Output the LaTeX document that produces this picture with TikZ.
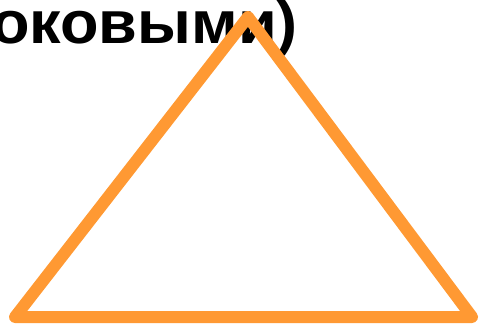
\documentclass[tikz,border=0pt]{standalone}
\usepackage{fontspec}
\setmainfont{Liberation Sans}
\definecolor{tri}{RGB}{255,153,51}
\begin{document}
\begin{tikzpicture}[x=1pt,y=-1pt,
  title/.style={inner sep=0pt,anchor=base east,font=\fontsize{60}{62}\selectfont\bfseries},
  triline/.style={draw=tri,line width=12pt,line join=round,line cap=round}]
\useasboundingbox (0,0) rectangle (481,324);
\node[title,xscale=1.05] (t) at (298,43) {оковыми)};
\coordinate (a) at (248,17);
\coordinate (b) at (15,317);
\coordinate (c) at (472,317);
\draw[triline] (a) -- (b) -- (c) -- cycle;
\end{tikzpicture}
\end{document}
